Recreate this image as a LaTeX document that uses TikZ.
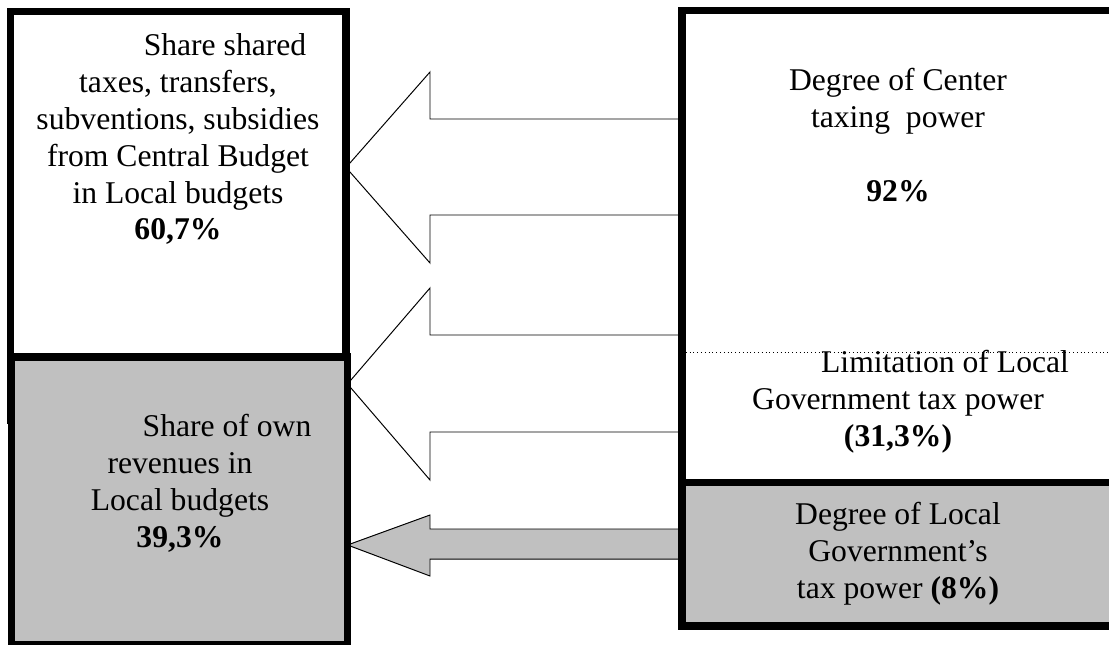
\documentclass[tikz,border=0pt]{standalone}
\usepackage{fontspec}
\setmainfont{Liberation Serif}
\usepackage{tikz}
\usetikzlibrary{fit,backgrounds,calc}
\definecolor{Silver}{HTML}{C0C0C0}
\tikzset{
    % thick black frames, no rounded edges
    panel/.style={
        rectangle,
        draw=black,
        line width=5.2pt,
        inner sep=0pt,
        outer sep=0pt
    },
    whitepanel/.style={panel, fill=white},
    graypanel/.style={panel, fill=Silver},
    paneltext/.style={
        align=center,
        inner sep=0pt,
        font=\fontsize{22.5}{26.3}\selectfont
    },
    blockarrow/.style={
        draw=black,
        line width=0.7pt,
        fill=white,
        line join=miter
    },
    grayarrow/.style={blockarrow, fill=Silver}
}

\begin{document}
\begin{tikzpicture}[x=0.025cm, y=-0.025cm]
    \useasboundingbox (0,0) rectangle (1109,644);

    % left column: local budgets
    \node[whitepanel, fit={(10.5,11.5) (346,420)}] (transfers) {};
    \node[graypanel, fit={(11.2,357) (347.5,644.5)}] (own) {};

    % right column: taxing power
    \node[whitepanel, fit={(682,10.8) (1114,483)}] (center) {};
    \node[graypanel, fit={(682,482.5) (1114,626)}] (localpower) {};
    \draw[dotted, line width=0.7pt] (center.west |- 0,352) -- (center.east |- 0,352);

    \node[paneltext] (transferstext) at (178,139) {
        \hspace*{2.35cm}Share shared\\
        taxes, transfers,\\
        subventions, subsidies\\
        from Central Budget\\
        in Local budgets\\
        \textbf{60,7\%}
    };
    \node[paneltext] (owntext) at (180,483.5) {
        \hspace*{2.35cm}Share of own\\
        revenues in\\
        Local budgets\\
        \textbf{39,3\%}
    };
    \node[paneltext] (centertext) at (898,135) {
        Degree of Center\\
        taxing\ \ power\\
        ~\\
        \textbf{92\%}
    };
    \node[paneltext] (limittext) at (898,401.5) {
        \hspace*{2.35cm}Limitation of Local\\
        Government tax power\\
        \textbf{(31,3\%)}
    };
    \node[paneltext] (localtext) at (898,554) {
        Degree of Local\\
        Government’s\\
        tax power \textbf{(8\%)}
    };

    % block arrows, right to left
    \begin{scope}[on background layer]
        \draw[blockarrow] (transfers.east |- 0,167.5) -- (430,72) -- (430,119)
            -- (center.west |- 0,119) -- (center.west |- 0,215)
            -- (430,215) -- (430,263) -- cycle;
        \draw[blockarrow] (own.east |- 0,384) -- (430,288) -- (430,335)
            -- (center.west |- 0,335) -- (center.west |- 0,432)
            -- (430,432) -- (430,480) -- cycle;
        \draw[grayarrow] (own.east |- 0,545) -- (430,515) -- (430,529)
            -- (localpower.west |- 0,529) -- (localpower.west |- 0,559)
            -- (430,559) -- (430,576) -- cycle;
    \end{scope}
\end{tikzpicture}
\end{document}
